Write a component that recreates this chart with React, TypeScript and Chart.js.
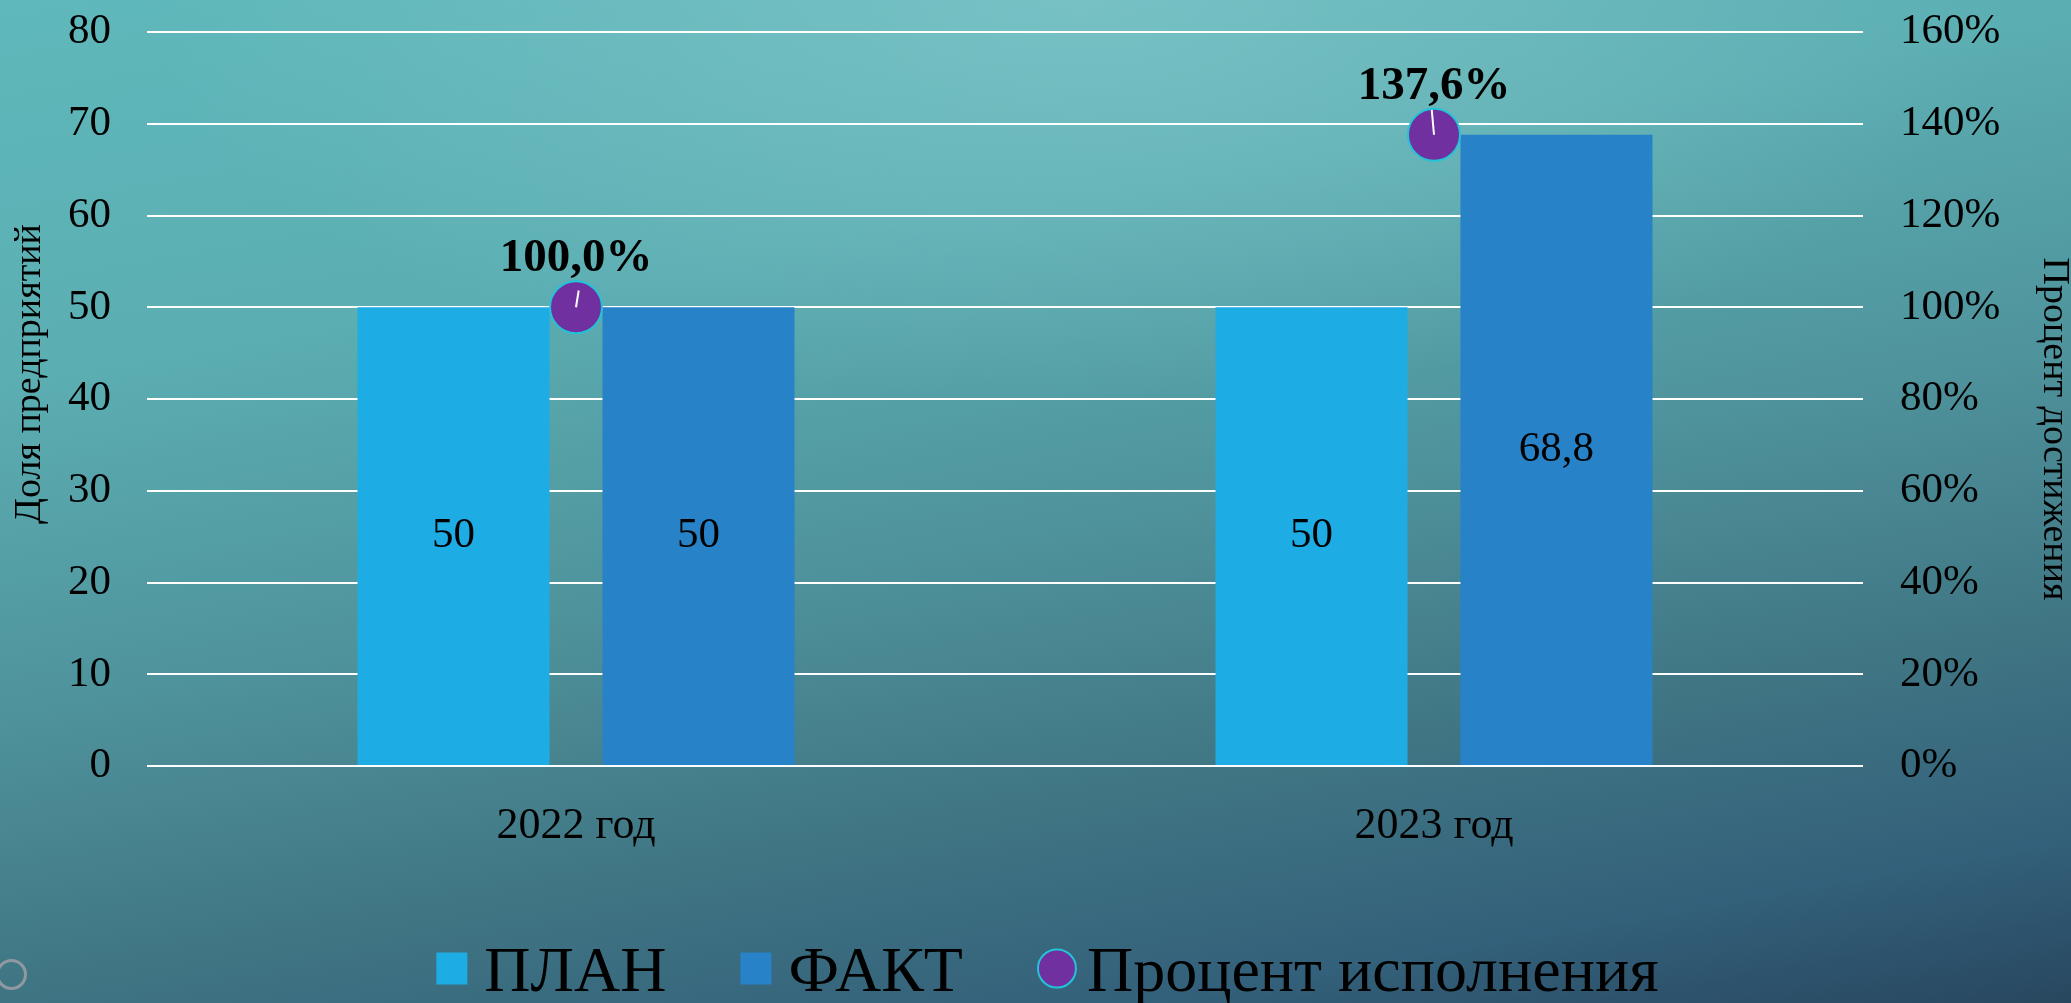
import React, { useEffect, useRef } from "react";
import { Chart, registerables } from "chart.js";

Chart.register(...registerables);

const FONT = '"Liberation Serif", "Times New Roman", serif';

const categories = ["2022 год", "2023 год"];
const seriesLabels = ["ПЛАН", "ФАКТ", "Процент исполнения"];
const planValues = [50, 50];
const factValues = [50, 68.8];
const percentValues = [100.0, 137.6];
const leftAxis = { min: 0, max: 80, step: 10 };
const rightAxis = { min: 0, max: 160, step: 20 };
const leftTitle = "Доля предприятий";
const rightTitle = "Процент достижения";

const W = 2071;
const H = 1003;

const fmtNum = (v: number) => String(v).replace(".", ",");
const fmtPct = (v: number) => v.toFixed(1).replace(".", ",") + "%";

// small white radius tick inside each marker (angle in radians, length px)
const markerTicks = [
  { a: 0.16, len: 17 },
  { a: -0.09, len: 25 },
];

const labelsPlugin = {
  id: "valueLabels",
  afterDatasetsDraw(chart: any) {
    const ctx = chart.ctx;
    ctx.save();
    chart.data.datasets.forEach((ds: any, di: number) => {
      const meta = chart.getDatasetMeta(di);
      if (meta.type === "bar") {
        ctx.font = `43px ${FONT}`;
        ctx.fillStyle = "#000";
        ctx.textAlign = "center";
        ctx.textBaseline = "middle";
        meta.data.forEach((el: any, i: number) => {
          const p = el.getProps(["x", "y", "base"], true);
          ctx.fillText(fmtNum(ds.data[i]), p.x, (p.y + p.base) / 2);
        });
      }
    });
    chart.data.datasets.forEach((ds: any, di: number) => {
      const meta = chart.getDatasetMeta(di);
      if (meta.type !== "bar") {
        meta.data.forEach((el: any, i: number) => {
          const p = el.getProps(["x", "y"], true);
          const r = el.options.radius;
          const t = markerTicks[i] || { a: 0, len: r * 0.8 };
          ctx.strokeStyle = "#ffffff";
          ctx.lineWidth = 2;
          ctx.beginPath();
          ctx.moveTo(p.x, p.y);
          ctx.lineTo(p.x + Math.sin(t.a) * t.len, p.y - Math.cos(t.a) * t.len);
          ctx.stroke();
          ctx.font = `bold 47px ${FONT}`;
          ctx.fillStyle = "#000";
          ctx.textAlign = "center";
          ctx.textBaseline = "alphabetic";
          ctx.fillText(fmtPct(ds.data[i]), p.x, p.y - r - 10);
        });
      }
    });
    ctx.restore();
  },
};

const titlesPlugin = {
  id: "axisTitles",
  afterDraw(chart: any) {
    const ctx = chart.ctx;
    ctx.save();
    ctx.font = `38px ${FONT}`;
    ctx.fillStyle = "#000";
    ctx.textAlign = "center";
    ctx.textBaseline = "alphabetic";
    ctx.save();
    ctx.translate(40, 374);
    ctx.rotate(-Math.PI / 2);
    ctx.fillText(leftTitle, 0, 0);
    ctx.restore();
    ctx.save();
    ctx.translate(2044, 429);
    ctx.rotate(Math.PI / 2);
    ctx.fillText(rightTitle, 0, 0);
    ctx.restore();
    ctx.restore();
  },
};

const legendPlugin = {
  id: "customLegend",
  afterDraw(chart: any) {
    const ctx = chart.ctx;
    ctx.save();
    ctx.font = `64px ${FONT}`;
    ctx.textBaseline = "alphabetic";
    ctx.textAlign = "left";
    const items = chart.data.datasets.map((ds: any) => {
      const isPoint = ds.type === "line";
      return {
        text: ds.label,
        isPoint,
        fill: isPoint ? ds.pointBackgroundColor : ds.backgroundColor,
        stroke: isPoint ? ds.pointBorderColor : null,
        mw: isPoint ? 40 : 31,
        gap: isPoint ? 10 : 17,
        tw: ctx.measureText(ds.label).width,
      };
    });
    const itemGap = 74;
    const total =
      items.reduce((s: number, it: any) => s + it.mw + it.gap + it.tw, 0) +
      itemGap * (items.length - 1);
    let x = chart.width / 2 + 12 - total / 2;
    const baseline = chart.height - 12;
    const cy = chart.height - 34.5;
    items.forEach((it: any) => {
      if (it.isPoint) {
        ctx.beginPath();
        ctx.arc(x + it.mw / 2, cy, it.mw / 2 - 1, 0, Math.PI * 2);
        ctx.fillStyle = it.fill;
        ctx.fill();
        ctx.lineWidth = 2;
        ctx.strokeStyle = it.stroke;
        ctx.stroke();
      } else {
        ctx.fillStyle = it.fill;
        ctx.fillRect(x, cy - 16, it.mw, 32);
      }
      x += it.mw + it.gap;
      ctx.fillStyle = "#000";
      ctx.fillText(it.text, x, baseline);
      x += it.tw + itemGap;
    });
    ctx.restore();
  },
};

export default function App() {
  const ref = useRef<HTMLCanvasElement | null>(null);

  useEffect(() => {
    if (!ref.current) return;
    Chart.defaults.font.family = FONT;
    Chart.defaults.color = "#000";
    const chart = new Chart(ref.current, {
      type: "bar",
      data: {
        labels: categories,
        datasets: [
          {
            type: "bar",
            label: seriesLabels[0],
            data: planValues,
            yAxisID: "y",
            backgroundColor: "#1EACE5",
            categoryPercentage: 0.571,
            barPercentage: 0.784,
            order: 1,
          },
          {
            type: "bar",
            label: seriesLabels[1],
            data: factValues,
            yAxisID: "y",
            backgroundColor: "#2782C7",
            categoryPercentage: 0.571,
            barPercentage: 0.784,
            order: 1,
          },
          {
            type: "line",
            label: seriesLabels[2],
            data: percentValues,
            yAxisID: "y1",
            showLine: false,
            pointRadius: 26,
            pointHoverRadius: 26,
            pointBorderWidth: 2,
            pointBackgroundColor: "#7030A0",
            pointBorderColor: "#22C4D8",
            order: 0,
          } as any,
        ],
      },
      options: {
        responsive: false,
        devicePixelRatio: 1,
        animation: false,
        layout: { padding: { top: 32, left: 0, right: 0, bottom: 0 } },
        plugins: {
          legend: { display: false },
          tooltip: { enabled: false },
        },
        scales: {
          x: {
            grid: { display: false },
            border: { display: false },
            ticks: { font: { size: 44, family: FONT }, color: "#000", padding: 26 },
            afterFit: (s: any) => {
              s.height = 237;
            },
          },
          y: {
            position: "left",
            min: leftAxis.min,
            max: leftAxis.max,
            ticks: { stepSize: leftAxis.step, font: { size: 43, family: FONT }, color: "#000", padding: 36 },
            grid: { color: "#ffffff", lineWidth: 2, drawTicks: false },
            border: { display: false },
            afterFit: (s: any) => {
              s.width = 147;
              s.paddingTop = 26;
              s.paddingBottom = 26;
            },
          },
          y1: {
            position: "right",
            min: rightAxis.min,
            max: rightAxis.max,
            ticks: {
              stepSize: rightAxis.step,
              font: { size: 43, family: FONT },
              color: "#000",
              padding: 37,
              callback: (v: any) => v + "%",
            },
            grid: { drawOnChartArea: false, drawTicks: false },
            border: { display: false },
            afterFit: (s: any) => {
              s.width = 208;
              s.paddingTop = 26;
              s.paddingBottom = 26;
            },
          },
        },
      },
      plugins: [labelsPlugin, titlesPlugin, legendPlugin],
    });
    return () => chart.destroy();
  }, []);

  return (
    <div
      style={{
        position: "fixed",
        left: 0,
        top: 0,
        width: W,
        height: H,
        overflow: "hidden",
        background:
          "radial-gradient(ellipse 45% 40% at 52% 0%, rgba(150,210,212,0.45), rgba(150,210,212,0) 100%), linear-gradient(170deg, #5FB8BB 0%, #5BAEB2 28%, #4F939C 52%, #407684 72%, #33607A 88%, #28475F 100%)",
      }}
    >
      <canvas ref={ref} width={W} height={H} style={{ display: "block", position: "absolute", left: 0, top: 0 }} />
      <div
        style={{
          position: "absolute",
          left: -4,
          top: 959,
          width: 25,
          height: 25,
          border: "3px solid #8E9AA0",
          borderRadius: "50%",
        }}
      />
    </div>
  );
}
